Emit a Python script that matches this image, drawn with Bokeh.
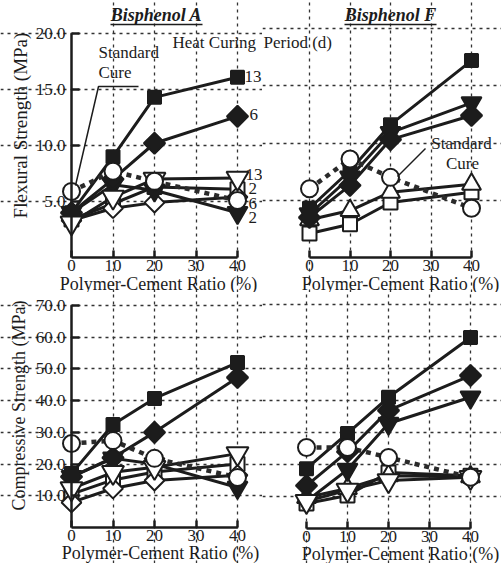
import numpy as np
from bokeh.plotting import figure
from bokeh.models import Range1d, FixedTicker, Label, PrintfTickFormatter
from bokeh.layouts import column, row
from bokeh.embed import file_html
from bokeh.resources import INLINE

# ---------------- data ----------------
pcr = [0, 10, 20, 40]                      # polymer-cement ratio (%)
x_ticks = [0, 10, 20, 30, 40]
flex_ticks = [5, 10, 15, 20]
comp_ticks = [10, 20, 30, 40, 50, 60, 70]

# Bisphenol A - flexural strength (MPa)
a_flex_open2 = [3.4, 4.8, 6.3, 6.1]
a_flex_open6 = [3.3, 4.4, 4.9, 5.4]
a_flex_heat2 = [4.0, 6.5, 6.0, 4.0]
a_flex_heat6 = [4.0, 7.0, 10.2, 12.6]
a_flex_heat13 = [4.0, 9.0, 14.3, 16.1]
a_flex_open13 = [3.1, 5.4, 7.0, 7.1]
a_flex_std = [5.9, 7.7, 6.8, 5.1]

# Bisphenol F - flexural strength (MPa)
f_flex_open_sq = [2.1, 2.9, 4.8, 5.7]
f_flex_open_up = [3.3, 4.1, 5.7, 6.4]
f_flex_heat6 = [3.5, 6.3, 10.3, 12.4]
f_flex_heat2 = [3.8, 7.0, 10.9, 13.5]
f_flex_heat13 = [4.3, 7.6, 11.6, 17.2]
f_flex_std = [6.0, 8.6, 7.0, 4.3]

# Bisphenol A - compressive strength (MPa)
a_comp_open2 = [10.5, 15.0, 17.5, 20.0]
a_comp_open6 = [7.9, 12.3, 14.8, 16.5]
a_comp_heat2 = [16.0, 21.8, 20.0, 12.6]
a_comp_heat6 = [16.0, 22.0, 30.0, 47.3]
a_comp_heat13 = [17.0, 32.5, 40.7, 52.0]
a_comp_open13 = [12.3, 17.4, 19.0, 23.3]
a_comp_std = [26.5, 27.4, 21.8, 15.8]

# Bisphenol F - compressive strength (MPa)
f_comp_open_dn = [8.5, 12.0, 15.0, 16.0]
f_comp_open_sq = [7.8, 10.3, 17.5, 16.5]
f_comp_open_up = [9.7, 12.5, 16.5, 16.2]
f_comp_heat2 = [8.5, 18.4, 32.8, 41.0]
f_comp_heat6 = [13.4, 24.0, 36.9, 47.8]
f_comp_heat13 = [18.7, 29.7, 41.0, 59.7]
f_comp_std = [25.3, 25.3, 22.2, 16.0]

# ---------------- styles ----------------
INK = "#1c1c1c"
FONT = "Liberation Serif"
FS = "17px"

STYLES = {
    "fsq":  dict(marker="square", size=13, fill=INK, angle=0.0),
    "fdi":  dict(marker="square", size=15, fill=INK, angle=np.pi / 4),
    "ftri": dict(marker="inverted_triangle", size=20, fill=INK, angle=0.0),
    "otri": dict(marker="inverted_triangle", size=22, fill="white", angle=0.0),
    "oup":  dict(marker="triangle", size=19, fill="white", angle=0.0),
    "odi":  dict(marker="square", size=14, fill="white", angle=np.pi / 4),
    "osq":  dict(marker="square", size=14, fill="white", angle=0.0),
    "std":  dict(marker="circle", size=17, fill="white", angle=0.0),
}


class Panel:
    """Canvas placement (pixels) and data scale of one panel."""

    def __init__(self, left, top, width, height, x0, sx, y0, sy):
        self.left, self.top, self.width, self.height = left, top, width, height
        self.x0, self.sx, self.y0, self.sy = x0, sx, y0, sy

    def xr(self):
        return ((self.left - self.x0) / self.sx, (self.left + self.width - self.x0) / self.sx)

    def yr(self):
        return ((self.y0 - (self.top + self.height)) / self.sy, (self.y0 - self.top) / self.sy)

    def dx(self, px):
        return (px - self.x0) / self.sx

    def dy(self, py):
        return (self.y0 - py) / self.sy


def make_fig(g, yticks, ybounds, left_axis):
    p = figure(width=g.width, height=g.height, x_range=Range1d(*g.xr()), y_range=Range1d(*g.yr()),
               output_backend="svg", toolbar_location=None, title=None,
               min_border_left=0, min_border_right=0, min_border_top=0, min_border_bottom=0)
    p.outline_line_color = None
    p.background_fill_color = "white"
    p.border_fill_color = "white"

    xa = p.xaxis[0]
    xa.fixed_location = 0
    xa.ticker = FixedTicker(ticks=x_ticks)
    xa.bounds = (0, 40)
    xa.axis_line_width = 2.5
    xa.axis_line_color = INK
    xa.major_tick_in = 7
    xa.major_tick_out = 0
    xa.major_tick_line_width = 2.5
    xa.major_tick_line_color = INK
    xa.minor_tick_line_color = None
    xa.major_label_text_font = FONT
    xa.major_label_text_font_size = FS
    xa.major_label_text_color = INK
    xa.major_label_standoff = 2

    ya = p.yaxis[0]
    ya.ticker = FixedTicker(ticks=yticks)
    if left_axis:
        ya.fixed_location = 0
        ya.bounds = ybounds
        ya.axis_line_width = 2.5
        ya.axis_line_color = INK
        ya.major_tick_in = 8
        ya.major_tick_out = 0
        ya.major_tick_line_width = 2.5
        ya.major_tick_line_color = INK
        ya.minor_tick_line_color = None
        ya.formatter = PrintfTickFormatter(format="%.1f")
        ya.major_label_text_font = FONT
        ya.major_label_text_font_size = FS
        ya.major_label_text_color = INK
        ya.major_label_standoff = 6
    else:
        ya.visible = False

    p.xgrid.ticker = FixedTicker(ticks=x_ticks if not left_axis else x_ticks[1:])
    p.ygrid.ticker = FixedTicker(ticks=yticks)
    for gr in (p.xgrid, p.ygrid):
        gr.grid_line_color = "#333333"
        gr.grid_line_dash = "3 4"
        gr.grid_line_width = 1.3
    p.xgrid.bounds = ybounds
    p.ygrid.bounds = (0, 40)
    return p


def draw(p, series):
    for key, ys in series:
        if key == "std":
            p.line(pcr, ys, line_width=4.5, line_color="#2a2a2a", line_dash="5 5")
        else:
            p.line(pcr, ys, line_width=3, line_color=INK)
    order = ["osq", "oup", "odi", "ftri", "fdi", "fsq", "otri", "std"]
    for k in order:
        for key, ys in series:
            if key != k:
                continue
            st = STYLES[key]
            p.scatter(pcr, ys, marker=st["marker"], size=st["size"], angle=st["angle"],
                      fill_color=st["fill"], line_color=INK, line_width=2)


def label(p, x, y, text, align="left", size=FS, style="normal", angle=0.0):
    p.add_layout(Label(x=x, y=y, text=text, text_font=FONT, text_font_size=size,
                       text_font_style=style, text_color=INK, text_align=align,
                       text_baseline="middle", angle=angle))


# ---------------- layout geometry ----------------
g_tl = Panel(0, 0, 262, 292, 71, 4.15, 257, 11.2)
g_tr = Panel(262, 0, 239, 292, 309, 4.05, 257, 11.45)
g_bl = Panel(0, 292, 262, 271, 71, 4.15, 527, 3.171)
g_br = Panel(262, 292, 239, 271, 306, 4.1, 528, 3.2)

tl = make_fig(g_tl, flex_ticks, (0, 20), True)
tr = make_fig(g_tr, flex_ticks, (0, 20), False)
bl = make_fig(g_bl, comp_ticks, (0, 70), True)
br = make_fig(g_br, comp_ticks, (0, 70), False)

draw(tl, [("osq", a_flex_open2), ("odi", a_flex_open6), ("ftri", a_flex_heat2),
          ("fdi", a_flex_heat6), ("fsq", a_flex_heat13), ("otri", a_flex_open13),
          ("std", a_flex_std)])
draw(tr, [("osq", f_flex_open_sq), ("oup", f_flex_open_up), ("fdi", f_flex_heat6),
          ("ftri", f_flex_heat2), ("fsq", f_flex_heat13), ("std", f_flex_std)])
draw(bl, [("osq", a_comp_open2), ("odi", a_comp_open6), ("ftri", a_comp_heat2),
          ("fdi", a_comp_heat6), ("fsq", a_comp_heat13), ("otri", a_comp_open13),
          ("std", a_comp_std)])
draw(br, [("otri", f_comp_open_dn), ("osq", f_comp_open_sq), ("oup", f_comp_open_up),
          ("ftri", f_comp_heat2), ("fdi", f_comp_heat6), ("fsq", f_comp_heat13),
          ("std", f_comp_std)])

# titles with underline
label(tl, g_tl.dx(156), g_tl.dy(14), "Bisphenol A", align="center", size="18px", style="bold italic")
tl.line([g_tl.dx(110), g_tl.dx(202)], [g_tl.dy(24), g_tl.dy(24)], line_width=1.5, line_color=INK)
label(tr, g_tr.dx(390), g_tr.dy(14), "Bisphenol F", align="center", size="18px", style="bold italic")
tr.line([g_tr.dx(344), g_tr.dx(436)], [g_tr.dy(24), g_tr.dy(24)], line_width=1.5, line_color=INK)

# axis titles
label(tl, g_tl.dx(20), g_tl.dy(125), "Flexural Strength (MPa)", align="center",
      size="19px", angle=np.pi / 2)
label(bl, g_bl.dx(18), g_bl.dy(405), "Compressive Strength (MPa)", align="center",
      size="18px", angle=np.pi / 2)
for p, g, xc, yc in ((tl, g_tl, 158, 283), (tr, g_tr, 400, 283),
                     (bl, g_bl, 160, 552), (br, g_br, 400, 553)):
    label(p, g.dx(xc), g.dy(yc), "Polymer-Cement Ratio (%)", align="center", size="18px")

# annotations (top left)
label(tl, g_tl.dx(98), g_tl.dy(52), "Standard")
label(tl, g_tl.dx(98), g_tl.dy(72), "Cure")
tl.line([g_tl.dx(75), g_tl.dx(98), g_tl.dx(138)], [g_tl.dy(185), g_tl.dy(86), g_tl.dy(86)],
        line_width=1.5, line_color=INK)
label(tl, g_tl.dx(172), g_tl.dy(42), "Heat Curing")
label(tr, g_tr.dx(263), g_tr.dy(42), "Period (d)")
for px, py, t in ((244, 76, "13"), (249, 114, "6"), (245, 174, "13"), (248, 188, "2"),
                  (248, 203, "6"), (248, 217, "2")):
    label(tl, g_tl.dx(px), g_tl.dy(py), t)

# annotations (top right)
label(tr, g_tr.dx(461), g_tr.dy(143), "Standard", align="center")
label(tr, g_tr.dx(462), g_tr.dy(163), "Cure", align="center")
tr.line([g_tr.dx(425), g_tr.dx(397)], [g_tr.dy(148), g_tr.dy(176)], line_width=1.5, line_color=INK)

layout = column(row(tl, tr), row(bl, br))
open("out.html", "w").write(file_html(layout, INLINE))
